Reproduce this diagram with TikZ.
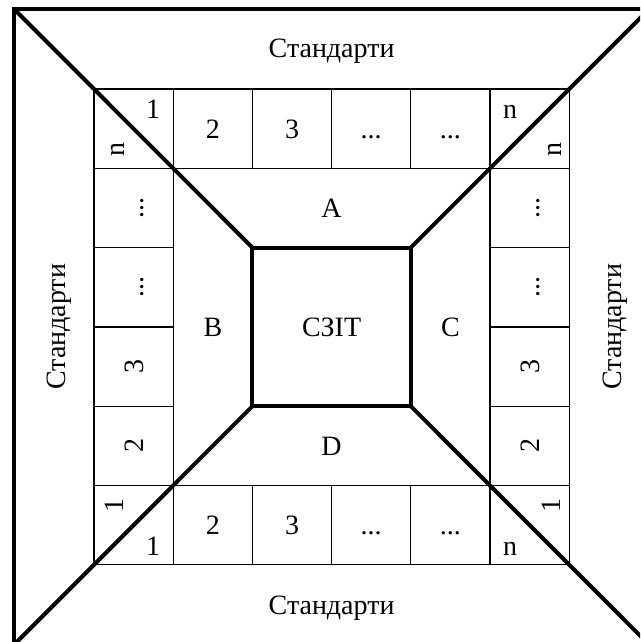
\documentclass[tikz,border=0pt]{standalone}
\usepackage{fontspec}
\setmainfont{Liberation Serif}
\begin{document}
\begin{tikzpicture}[x=1pt,y=-1pt,
  gridline/.style={line width=1.3pt},
  heavy/.style={line width=4pt},
  lab/.style={inner sep=0pt, font=\fontsize{28}{32}\selectfont, text height=19pt, text depth=0pt},
  rlab/.style={lab, rotate=90}]
\useasboundingbox (0,0) rectangle (640,642);
\clip (0,0) rectangle (640,642);
% outer frame and diagonals
\coordinate (O1) at (14,9);
\coordinate (O2) at (649.2,9);
\coordinate (O3) at (649.2,644.8);
\coordinate (O4) at (14,644.8);
\coordinate (I1) at (252.4,247.6);
\coordinate (I2) at (410.8,247.6);
\coordinate (I3) at (410.8,406.2);
\coordinate (I4) at (252.4,406.2);
\draw[heavy] (O1) rectangle (O3);
\draw[heavy] (O1) -- (I1);
\draw[heavy] (O2) -- (I2);
\draw[heavy] (O3) -- (I3);
\draw[heavy] (O4) -- (I4);
% grid
\draw[gridline] (94,89) rectangle (569.2,564.8);
\draw[gridline] (173.2,168.3) rectangle (490,485.5);
\foreach \x in {173.2,252.4,331.6,410.8,490}{
  \draw[gridline] (\x,89) -- (\x,168.3);
  \draw[gridline] (\x,485.5) -- (\x,564.8);
}
\foreach \y in {168.3,247.6,326.9,406.2,485.5}{
  \draw[gridline] (94,\y) -- (173.2,\y);
  \draw[gridline] (490,\y) -- (569.2,\y);
}
% inner square
\draw[heavy] (I1) rectangle (I3);
% side labels
\node[lab] (st) at (331.6,48) {Стандарти};
\node[lab] (sb) at (331.6,605) {Стандарти};
\node[rlab] (sl) at (56,326.9) {Стандарти};
\node[rlab] (sr) at (612,326.9) {Стандарти};
% inner labels
\node[lab] (la) at (331.6,207.6) {A};
\node[lab] (lb) at (213,326.9) {B};
\node[lab] (lc) at (450.4,326.9) {C};
\node[lab] (ld) at (331.6,446) {D};
\node[lab] (lz) at (331.6,326.9) {СЗІТ};
% top row
\node[lab] (t2) at (212.8,128.6) {2};
\node[lab] (t3) at (292,128.6) {3};
\node[lab] (t4) at (371.2,128.6) {...};
\node[lab] (t5) at (450.4,128.6) {...};
% bottom row
\node[lab] (b2) at (212.8,525.2) {2};
\node[lab] (b3) at (292,525.2) {3};
\node[lab] (b4) at (371.2,525.2) {...};
\node[lab] (b5) at (450.4,525.2) {...};
% left column
\node[rlab] (l2) at (133.6,208) {...};
\node[rlab] (l3) at (133.6,287.3) {...};
\node[rlab] (l4) at (133.6,366.6) {3};
\node[rlab] (l5) at (133.6,445.9) {2};
% right column
\node[rlab] (r2) at (529.6,208) {...};
\node[rlab] (r3) at (529.6,287.3) {...};
\node[rlab] (r4) at (529.6,366.6) {3};
\node[rlab] (r5) at (529.6,445.9) {2};
% corners
\node[lab] (c1a) at (153,109) {1};
\node[rlab] (c1b) at (115,149) {n};
\node[lab] (c2a) at (510,109) {n};
\node[rlab] (c2b) at (552,149) {n};
\node[rlab] (c3a) at (114,505) {1};
\node[lab] (c3b) at (153,546) {1};
\node[rlab] (c4a) at (551,505) {1};
\node[lab] (c4b) at (510,546) {n};
\end{tikzpicture}
\end{document}
